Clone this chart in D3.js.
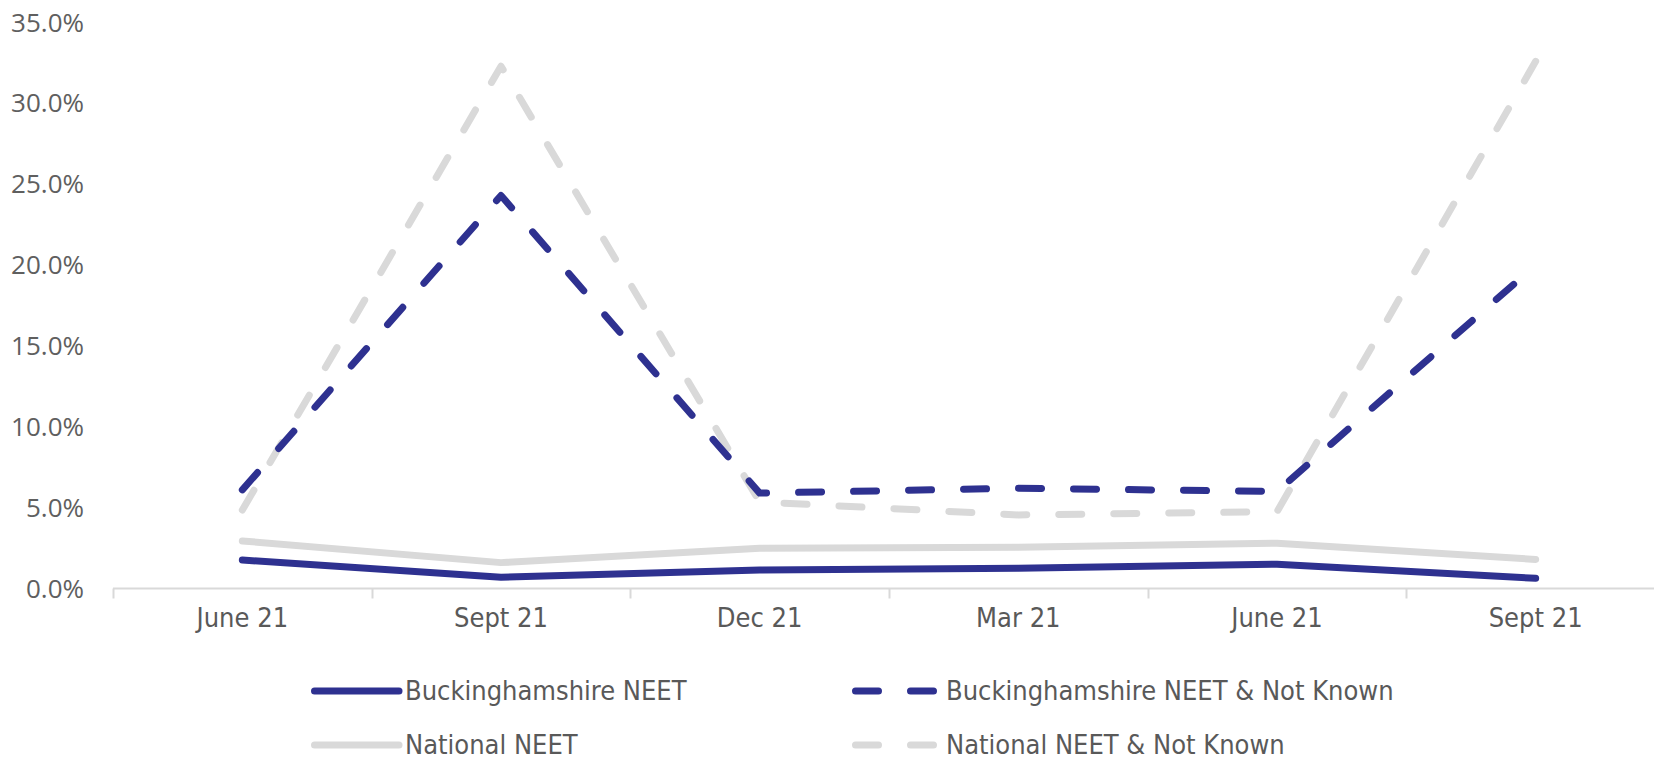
<!DOCTYPE html>
<html>
<head>
<meta charset="utf-8">
<script src="https://cdn.jsdelivr.net/npm/d3@7"></script>
<style>
  html, body { margin: 0; padding: 0; background: #ffffff; }
  svg { display: block; }
  .ylab { font-family: "Open Sans", "Noto Sans", sans-serif; font-size: 26px; fill: #5f5f5f; }
  .xlab, .leg { font-family: "Liberation Sans Narrow", "DejaVu Sans Condensed", "Liberation Sans", sans-serif; font-size: 27px; fill: #595959; }
</style>
</head>
<body>
<svg id="chart" width="1654" height="763"></svg>
<script>
// Quarterly NEET rates (%), June 21 to Sept 21 of the following year
const categories = ["June 21", "Sept 21", "Dec 21", "Mar 21", "June 21", "Sept 21"];
const bucksNeet = [1.76, 0.70, 1.14, 1.25, 1.50, 0.63];
const bucksNeetNotKnown = [6.1, 24.3, 5.9, 6.2, 6.0, 20.0];
const nationalNeet = [2.94, 1.60, 2.49, 2.55, 2.80, 1.80];
const nationalNeetNotKnown = [4.85, 32.3, 5.35, 4.55, 4.75, 32.6];
const yTicks = [0, 5, 10, 15, 20, 25, 30, 35];

const NAVY = "#2E3190";
const GREY = "#D9D9D9";

const svg = d3.select("#chart");

const idx = categories.map((_, i) => i);
const x = d3.scaleBand().domain(idx).range([113, 1665]).paddingInner(0).paddingOuter(0);
const y = d3.scaleLinear().domain([0, 35]).range([588.5, 22.5]);
const cx = i => x(i) + x.bandwidth() / 2;

// Y tick labels (no axis line, no gridlines)
svg.append("g")
  .selectAll("text")
  .data(yTicks)
  .join("text")
  .attr("class", "ylab")
  .attr("x", 84)
  .attr("y", d => y(d))
  .attr("dy", "0.35em")
  .attr("text-anchor", "end")
  .text(d => d3.format(".1f")(d) + "%");

// X axis: baseline with ticks at band boundaries
const xAxis = svg.append("g");
xAxis.append("line")
  .attr("x1", 113).attr("x2", 1665)
  .attr("y1", y(0)).attr("y2", y(0))
  .attr("stroke", GREY).attr("stroke-width", 2);
const bounds = idx.map(i => x(i)).concat([x(idx[idx.length - 1]) + x.bandwidth()]);
xAxis.selectAll("line.tick")
  .data(bounds)
  .join("line")
  .attr("class", "tick")
  .attr("x1", d => Math.round(d) + 0.5).attr("x2", d => Math.round(d) + 0.5)
  .attr("y1", y(0)).attr("y2", y(0) + 10)
  .attr("stroke", GREY).attr("stroke-width", 2);
xAxis.selectAll("text")
  .data(idx)
  .join("text")
  .attr("class", "xlab")
  .attr("x", d => cx(d))
  .attr("y", 605)
  .attr("dy", "0.8em")
  .attr("text-anchor", "middle")
  .text(d => categories[d]);

// Series, drawn grey first so the navy lines sit on top
const series = [
  { name: "National NEET", values: nationalNeet, color: GREY, dash: null },
  { name: "National NEET & Not Known", values: nationalNeetNotKnown, color: GREY, dash: "23 32" },
  { name: "Buckinghamshire NEET", values: bucksNeet, color: NAVY, dash: null },
  { name: "Buckinghamshire NEET & Not Known", values: bucksNeetNotKnown, color: NAVY, dash: "23 32" }
];

const line = d3.line()
  .x(d => cx(d.i))
  .y(d => y(d.v));

svg.append("g")
  .selectAll("path")
  .data(series)
  .join("path")
  .attr("d", s => line(s.values.map((v, i) => ({ i, v }))))
  .attr("fill", "none")
  .attr("stroke", s => s.color)
  .attr("stroke-width", 7)
  .attr("stroke-linecap", "round")
  .attr("stroke-linejoin", "round")
  .attr("stroke-dasharray", s => s.dash);

// Legend, two columns by two rows
const legendItems = [
  { name: "Buckinghamshire NEET", color: NAVY, dash: null, col: 0, row: 0 },
  { name: "Buckinghamshire NEET & Not Known", color: NAVY, dash: "23 32", col: 1, row: 0 },
  { name: "National NEET", color: GREY, dash: null, col: 0, row: 1 },
  { name: "National NEET & Not Known", color: GREY, dash: "23 32", col: 1, row: 1 }
];
const colX = [311, 852];
const rowY = [691, 745];
const leg = svg.append("g")
  .selectAll("g")
  .data(legendItems)
  .join("g")
  .attr("transform", d => `translate(${colX[d.col]},${rowY[d.row]})`);
leg.append("line")
  .attr("x1", 3.5).attr("x2", 88)
  .attr("y1", 0).attr("y2", 0)
  .attr("stroke", d => d.color)
  .attr("stroke-width", 7)
  .attr("stroke-linecap", "round")
  .attr("stroke-dasharray", d => d.dash);
leg.append("text")
  .attr("class", "leg")
  .attr("x", 94)
  .attr("y", 0)
  .attr("dy", "0.35em")
  .text(d => d.name);
</script>
</body>
</html>
